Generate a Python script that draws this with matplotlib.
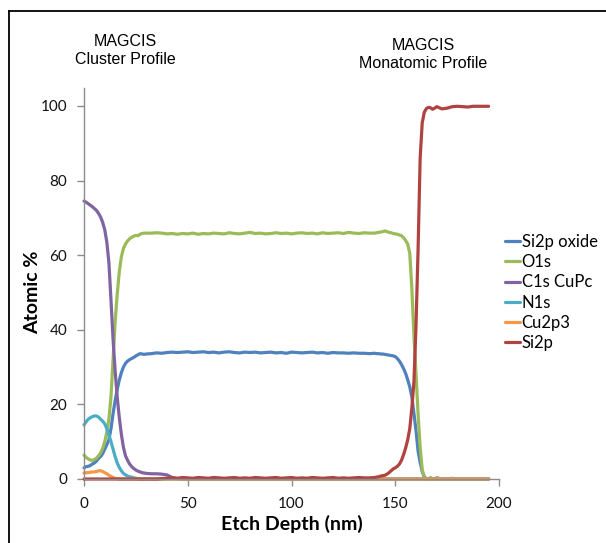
import matplotlib
matplotlib.use("Agg")
import matplotlib.pyplot as plt
from matplotlib.lines import Line2D

# ---------------- data ----------------
depth = ([0, 1, 2, 3, 4, 5, 6, 7, 8, 9, 10, 11, 12, 13, 14, 15, 16, 17, 18, 19, 20,
          21, 22, 23, 24, 25, 26, 27, 28, 29, 30]
         + [32.5, 35, 37.5, 40, 42.5, 45, 47.5, 50, 52.5, 55, 57.5, 60, 62.5, 65, 67.5,
            70, 72.5, 75, 77.5, 80, 82.5, 85, 87.5, 90, 92.5, 95, 97.5, 100, 102.5, 105,
            107.5, 110, 112.5, 115, 117.5, 120, 122.5, 125, 127.5, 130, 132.5, 135, 137.5]
         + [140, 141, 142, 143, 144, 145, 146, 147, 148, 149, 150, 151, 152, 153, 154, 155,
            156, 157, 158, 159, 160, 161, 162, 163, 164, 165, 166, 167, 168, 169, 170]
         + [172.5, 175, 177.5, 180, 182.5, 185, 187.5, 190, 192.5, 195])

si2p_oxide = ([3.0, 3.3, 3.4, 3.6, 4.0, 4.3, 4.8, 5.5, 6.0, 6.8, 8.0, 9.2, 10.5, 13.5, 17.5,
               21.0, 24.0, 26.5, 28.5, 30.0, 31.0, 31.6, 32.0, 32.3, 32.6, 33.0, 33.3, 33.6,
               33.5, 33.4, 33.5]
              + [33.6, 33.8, 33.7, 33.9, 34.0, 33.9, 34.0, 34.1, 33.9, 34.0, 34.1, 33.9, 34.0,
                 33.8, 34.0, 34.1, 33.9, 33.8, 34.0, 33.9, 34.0, 33.8, 33.9, 34.0, 33.8, 33.9,
                 33.7, 34.0, 33.9, 33.8, 33.9, 34.0, 33.8, 33.9, 33.7, 33.9, 33.8, 33.8, 33.7,
                 33.8, 33.7, 33.7, 33.6]
              + [33.7, 33.6, 33.6, 33.5, 33.5, 33.4, 33.3, 33.2, 33.1, 33.0, 32.8, 32.3, 31.6,
                 30.7, 29.6, 28.3, 26.6, 24.7, 22.0, 17.6, 13.0, 7.5, 4.5, 2.0, 0.5, 0.1,
                 0, 0, 0, 0, 0]
              + [0, 0, 0, 0, 0, 0, 0, 0, 0, 0])

o1s = ([6.4, 5.8, 5.4, 5.1, 5.0, 5.2, 5.6, 6.2, 7.0, 8.2, 10.0, 12.5, 16.0, 22.0, 32.0, 42.0,
        49.5, 55.5, 59.5, 61.8, 63.0, 63.8, 64.4, 64.8, 65.1, 65.3, 65.2, 65.6, 65.8, 65.9, 65.9]
       + [65.9, 66.0, 65.9, 65.7, 65.8, 65.6, 65.8, 65.7, 65.9, 65.6, 65.8, 65.7, 65.9, 65.8,
          65.7, 66.0, 65.8, 65.7, 65.9, 66.1, 65.8, 65.9, 65.7, 65.8, 66.0, 65.8, 65.9, 65.7,
          65.9, 66.0, 65.8, 65.9, 65.7, 66.0, 65.8, 65.9, 66.0, 65.8, 66.1, 65.9, 65.8, 66.0, 65.9]
       + [65.9, 66.0, 66.1, 66.2, 66.3, 66.5, 66.3, 66.1, 66.0, 65.8, 65.7, 65.6, 65.4, 65.2,
          64.7, 63.9, 63.0, 60.5, 51.0, 38.5, 28.3, 17.5, 8.5, 2.5, 0.6, 0.1, 0, 0.4, 0, 0, 0.4]
       + [0, 0, 0.2, 0, 0, 0, 0, 0, 0, 0])

c1s_cupc = ([74.5, 74.2, 73.8, 73.4, 73.0, 72.5, 72.0, 71.2, 70.2, 68.8, 66.8, 63.5, 58.0,
             48.0, 37.5, 29.0, 22.0, 16.5, 12.0, 8.5, 6.2, 5.0, 4.0, 3.3, 2.8, 2.4, 2.1, 1.9,
             1.7, 1.6, 1.5]
            + [1.4, 1.4, 1.3, 1.1, 0.4, 0.1] + [0] * 37
            + [0] * 31
            + [0] * 10)

n1s = ([14.5, 15.3, 16.0, 16.4, 16.7, 16.9, 16.9, 16.6, 16.0, 15.5, 14.8, 13.5, 11.8, 10.0,
        8.0, 6.0, 4.3, 3.1, 2.2, 1.5, 1.1, 0.8, 0.6, 0.5, 0.3, 0.2, 0.1, 0, 0, 0, 0]
       + [0] * 43 + [0] * 31 + [0] * 10)

cu2p3 = ([1.6, 1.7, 1.7, 1.8, 1.9, 1.9, 2.0, 2.2, 2.2, 2.0, 1.7, 1.4, 1.0, 0.7, 0.4, 0.2, 0.1]
         + [0] * 14 + [0] * 43 + [0] * 31 + [0] * 10)

si2p = ([0] * 31
        + [0, 0, 0.1, 0.2, 0.3, 0.2, 0.4, 0.3, 0.2, 0.4, 0.3, 0.2, 0.4, 0.3, 0.2, 0.3, 0.4,
           0.2, 0.3, 0.2, 0.4, 0.3, 0.2, 0.3, 0.4, 0.2, 0.3, 0.4, 0.2, 0.3, 0.2, 0.4, 0.3,
           0.2, 0.3, 0.4, 0.2, 0.3, 0.2, 0.3, 0.4, 0.3, 0.3]
        + [0.4, 0.5, 0.6, 0.8, 0.9, 1.0, 1.3, 1.7, 2.2, 2.7, 3.0, 3.4, 4.0, 5.0, 6.5, 8.3,
           10.5, 13.5, 19.0, 26.0, 41.0, 61.5, 86.0, 95.5, 98.3, 99.3, 99.6, 99.5, 99.1,
           99.4, 99.8]
        + [99.2, 99.4, 99.8, 99.9, 99.8, 99.7, 99.9, 99.9, 99.9, 99.9])

series_names = ["Si2p oxide", "O1s", "C1s CuPc", "N1s", "Cu2p3", "Si2p"]
series_values = [si2p_oxide, o1s, c1s_cupc, n1s, cu2p3, si2p]
series_colors = ["#4F81BD", "#9BBB59", "#8064A2", "#4BACC6", "#F79646", "#B0433F"]

x_ticks = [0, 50, 100, 150, 200]
y_ticks = [0, 20, 40, 60, 80, 100]

# ---------------- figure ----------------
W, H = 606, 543
fig = plt.figure(figsize=(W / 100, H / 100), dpi=100)
fig.patch.set_facecolor("white")

ax = fig.add_axes([84 / W, 1 - 479 / H, (499 - 84) / W, (479 - 88) / H])

for name, vals, col in zip(series_names, series_values, series_colors):
    ax.plot(depth, vals, color=col, lw=2.3, label=name, solid_capstyle="round",
            solid_joinstyle="round", clip_on=False)

ax.set_xlim(0, 200)
ax.set_ylim(0, 104.8)
ax.set_xticks(x_ticks)
ax.set_yticks(y_ticks)
ax.set_xticklabels([str(v) for v in x_ticks])
ax.set_yticklabels([str(v) for v in y_ticks])

for s in ["top", "right"]:
    ax.spines[s].set_visible(False)
for s in ["left", "bottom"]:
    ax.spines[s].set_color("#8C8C8C")
    ax.spines[s].set_linewidth(1.0)

ax.tick_params(axis="both", direction="out", length=5, width=1, color="#8C8C8C",
               labelsize=11, labelcolor="#111111")
ax.tick_params(axis="y", pad=7)
ax.tick_params(axis="x", pad=8)
for lab in ax.get_xticklabels() + ax.get_yticklabels():
    lab.set_family("Lato")

fig.text(33 / W, 1 - 292 / H, "Atomic %", rotation=90, ha="center", va="center",
         fontsize=14, fontweight="bold", family="Lato")
fig.text(292 / W, 1 - 524 / H, "Etch Depth (nm)", ha="center", va="center",
         fontsize=14, fontweight="bold", family="Lato")

fig.text(125.5 / W, 1 - 41 / H, "MAGCIS", ha="center", va="center", fontsize=11.5,
         family="Liberation Sans")
fig.text(125.5 / W, 1 - 59 / H, "Cluster Profile", ha="center", va="center", fontsize=11.5,
         family="Liberation Sans")
fig.text(423 / W, 1 - 45 / H, "MAGCIS", ha="center", va="center", fontsize=11.5,
         family="Liberation Sans")
fig.text(423 / W, 1 - 63 / H, "Monatomic Profile", ha="center", va="center", fontsize=11.5,
         family="Liberation Sans")

leg = fig.legend(loc="upper left", bbox_to_anchor=(505 / W, 1 - 234 / H), frameon=False,
                 prop={"family": "Lato", "size": 12}, handlelength=0.9, handletextpad=0.1,
                 labelspacing=0.25, borderpad=0, borderaxespad=0)

# outer frame (partially visible)
fig.add_artist(Line2D([9 / W, 9 / W], [1 - 11 / H, 0], transform=fig.transFigure,
                      color="black", lw=1.3))
fig.add_artist(Line2D([9 / W, 1], [1 - 11 / H, 1 - 11 / H], transform=fig.transFigure,
                      color="black", lw=1.3))

fig.savefig("out.png", dpi=100)
